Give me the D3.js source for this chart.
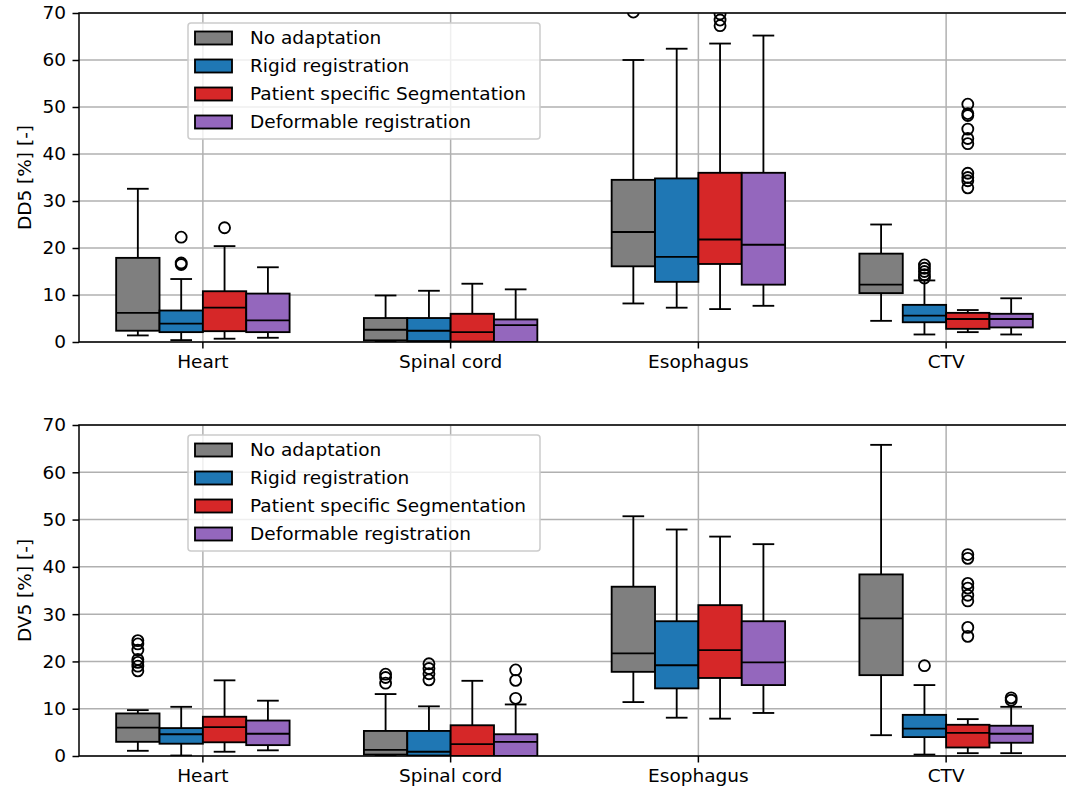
<!DOCTYPE html>
<html>
<head>
<meta charset="utf-8">
<script src="https://cdn.jsdelivr.net/npm/d3@7"></script>
<style>
  body { margin: 0; background: #fff; }
  text { font-family: "DejaVu Sans", sans-serif; }
</style>
</head>
<body>
<div id="chart"></div>
<script>
// categories, groups and colours
const categories = ['Heart', 'Spinal cord', 'Esophagus', 'CTV'];
const methods = ['No adaptation', 'Rigid registration', 'Patient specific Segmentation', 'Deformable registration'];
const colors = ['#7f7f7f', '#1f77b4', '#d62728', '#9467bd'];
const yTicks = [0, 10, 20, 30, 40, 50, 60, 70];

// box summaries: [whisker low, q1, median, q3, whisker high], one row per method
const dd5Heart = [[1.4, 2.4, 6.2, 17.9, 32.6], [0.4, 2.1, 3.9, 6.7, 13.4], [0.7, 2.3, 7.3, 10.8, 20.4], [0.9, 2.1, 4.6, 10.3, 15.9]];
const dd5Spinal = [[0, 0.35, 2.6, 5.1, 9.9], [0, 0.2, 2.4, 5.1, 10.9], [0, 0.1, 2.1, 6.0, 12.4], [0, 0, 3.6, 4.8, 11.2]];
const dd5Esoph = [[8.2, 16.1, 23.4, 34.5, 60.0], [7.3, 12.8, 18.1, 34.8, 62.4], [7.0, 16.6, 21.8, 36.0, 63.5], [7.7, 12.2, 20.7, 36.0, 65.2]];
const dd5Ctv = [[4.5, 10.4, 12.2, 18.8, 25.0], [1.6, 4.2, 5.6, 7.9, 13.1], [2.1, 2.8, 4.9, 6.2, 6.8], [1.6, 3.1, 4.9, 6.0, 9.3]];

const dd5HeartOut = [[], [22.3, 16.8, 16.5], [24.3], []];
const dd5SpinalOut = [[], [], [], []];
const dd5EsophOut = [[70.2], [], [69.8, 68.5, 67.3], []];
const dd5CtvOut = [[], [16.4, 15.7, 15.0, 14.3, 13.6], [50.6, 48.6, 48.2, 45.3, 43.3, 42.2, 35.9, 35.0, 34.3, 32.8], []];

const dv5Heart = [[1.1, 3.0, 6.0, 9.0, 9.7], [0.1, 2.6, 4.6, 5.9, 10.4], [0.9, 2.9, 6.1, 8.3, 16.0], [1.2, 2.3, 4.7, 7.5, 11.7]];
const dv5Spinal = [[0, 0.3, 1.3, 5.3, 13.1], [0, 0.1, 0.9, 5.3, 10.5], [0, 0, 2.5, 6.5, 15.9], [0, 0, 3.0, 4.6, 10.9]];
const dv5Esoph = [[11.4, 17.8, 21.7, 35.8, 50.7], [8.1, 14.3, 19.2, 28.5, 47.9], [7.9, 16.5, 22.4, 31.9, 46.4], [9.1, 15.0, 19.8, 28.5, 44.8]];
const dv5Ctv = [[4.4, 17.1, 29.1, 38.4, 65.8], [0.3, 4.0, 5.8, 8.7, 15.0], [0.6, 1.8, 4.9, 6.6, 7.8], [0.6, 2.8, 4.7, 6.4, 10.4]];

const dv5HeartOut = [[24.4, 23.7, 22.4, 20.4, 19.8, 19.0, 18.0], [], [], []];
const dv5SpinalOut = [[17.3, 16.6, 15.4], [19.5, 18.5, 17.4, 16.1], [], [18.2, 16.0, 12.2]];
const dv5EsophOut = [[], [], [], []];
const dv5CtvOut = [[], [19.1], [42.6, 41.8, 36.5, 35.5, 34.0, 32.8, 27.2, 25.3], [12.3, 11.8]];

const panels = [
  { ylabel: 'DD5 [%] [-]', top: 13, bottom: 342,
    boxes: [dd5Heart, dd5Spinal, dd5Esoph, dd5Ctv],
    outliers: [dd5HeartOut, dd5SpinalOut, dd5EsophOut, dd5CtvOut] },
  { ylabel: 'DV5 [%] [-]', top: 425, bottom: 756,
    boxes: [dv5Heart, dv5Spinal, dv5Esoph, dv5Ctv],
    outliers: [dv5HeartOut, dv5SpinalOut, dv5EsophOut, dv5CtvOut] }
];

const width = 1066;
const height = 790;
const left = 79;
const right = 1070;
const fontSize = 18.5;

const svg = d3.select('#chart').append('svg')
  .attr('width', width)
  .attr('height', height);

const x = d3.scaleBand().domain(categories).range([left, right]);
const xInner = d3.scaleBand().domain(methods).range([-x.bandwidth() * 0.35, x.bandwidth() * 0.35]);
const boxW = xInner.bandwidth();

panels.forEach((p, pi) => {
  const y = d3.scaleLinear().domain([0, 70]).range([p.bottom, p.top]);
  const g = svg.append('g').attr('class', 'panel');

  svg.append('clipPath').attr('id', 'clip' + pi)
    .append('rect')
    .attr('x', left).attr('y', p.top)
    .attr('width', right - left).attr('height', p.bottom - p.top);

  // grid
  g.append('g').selectAll('line').data(yTicks).enter().append('line')
    .attr('x1', left).attr('x2', right)
    .attr('y1', (d) => y(d)).attr('y2', (d) => y(d))
    .attr('stroke', '#b0b0b0').attr('stroke-width', 1.5);
  g.append('g').selectAll('line').data(categories).enter().append('line')
    .attr('x1', (d) => x(d) + x.bandwidth() / 2).attr('x2', (d) => x(d) + x.bandwidth() / 2)
    .attr('y1', p.top).attr('y2', p.bottom)
    .attr('stroke', '#b0b0b0').attr('stroke-width', 1.5);

  // boxes
  const marks = g.append('g').attr('clip-path', 'url(#clip' + pi + ')');
  categories.forEach((cat, ci) => {
    p.boxes[ci].forEach((s, mi) => {
      const cx = x(cat) + x.bandwidth() / 2 + xInner(methods[mi]) + boxW / 2;
      const [lo, q1, med, q3, hi] = s;
      const bg = marks.append('g')
        .attr('stroke', '#000').attr('stroke-width', 1.85).attr('fill', 'none');
      bg.append('line').attr('x1', cx).attr('x2', cx).attr('y1', y(hi)).attr('y2', y(q3));
      bg.append('line').attr('x1', cx).attr('x2', cx).attr('y1', y(q1)).attr('y2', y(lo));
      bg.append('line').attr('x1', cx - boxW / 4).attr('x2', cx + boxW / 4).attr('y1', y(hi)).attr('y2', y(hi));
      bg.append('line').attr('x1', cx - boxW / 4).attr('x2', cx + boxW / 4).attr('y1', y(lo)).attr('y2', y(lo));
      bg.append('rect')
        .attr('x', cx - boxW / 2).attr('width', boxW)
        .attr('y', y(q3)).attr('height', y(q1) - y(q3))
        .attr('fill', colors[mi]);
      bg.append('line').attr('x1', cx - boxW / 2).attr('x2', cx + boxW / 2).attr('y1', y(med)).attr('y2', y(med));
      bg.selectAll('circle').data(p.outliers[ci][mi]).enter().append('circle')
        .attr('cx', cx).attr('cy', (d) => y(d)).attr('r', 5.5)
        .attr('stroke-width', 1.85);
    });
  });

  // frame
  g.append('rect')
    .attr('x', left).attr('y', p.top)
    .attr('width', right - left).attr('height', p.bottom - p.top)
    .attr('fill', 'none').attr('stroke', '#000').attr('stroke-width', 1.5);

  // axes
  const yAxis = d3.axisLeft(y).tickValues(yTicks).tickSize(6.5).tickPadding(6.5).tickSizeOuter(0);
  const ya = g.append('g').attr('transform', `translate(${left},0)`).call(yAxis);
  const xAxis = d3.axisBottom(x).tickSize(6.5).tickPadding(6.5).tickSizeOuter(0);
  const xa = g.append('g').attr('transform', `translate(0,${p.bottom})`).call(xAxis);
  [ya, xa].forEach((a) => {
    a.select('.domain').remove();
    a.selectAll('line').attr('stroke', '#000').attr('stroke-width', 1.5);
    a.selectAll('text').attr('font-size', fontSize).attr('fill', '#000')
      .style('font-family', '"DejaVu Sans", sans-serif');
  });

  g.append('text')
    .attr('transform', `translate(31,${(p.top + p.bottom) / 2}) rotate(-90)`)
    .attr('text-anchor', 'middle')
    .attr('font-size', fontSize)
    .text(p.ylabel);

  // legend
  const lg = g.append('g').attr('transform', `translate(${left + 109},${p.top + 10})`);
  lg.append('rect')
    .attr('width', 352).attr('height', 116).attr('rx', 3)
    .attr('fill', '#fff').attr('fill-opacity', 0.8)
    .attr('stroke', '#ccc').attr('stroke-width', 1.5);
  methods.forEach((m, i) => {
    const ry = 15 + i * 28;
    lg.append('rect')
      .attr('x', 7).attr('y', ry - 6.5).attr('width', 37).attr('height', 13)
      .attr('fill', colors[i]).attr('stroke', '#000').attr('stroke-width', 1.85);
    lg.append('text')
      .attr('x', 62).attr('y', ry).attr('dy', '0.35em')
      .attr('font-size', fontSize)
      .text(m);
  });
});
</script>
</body>
</html>
